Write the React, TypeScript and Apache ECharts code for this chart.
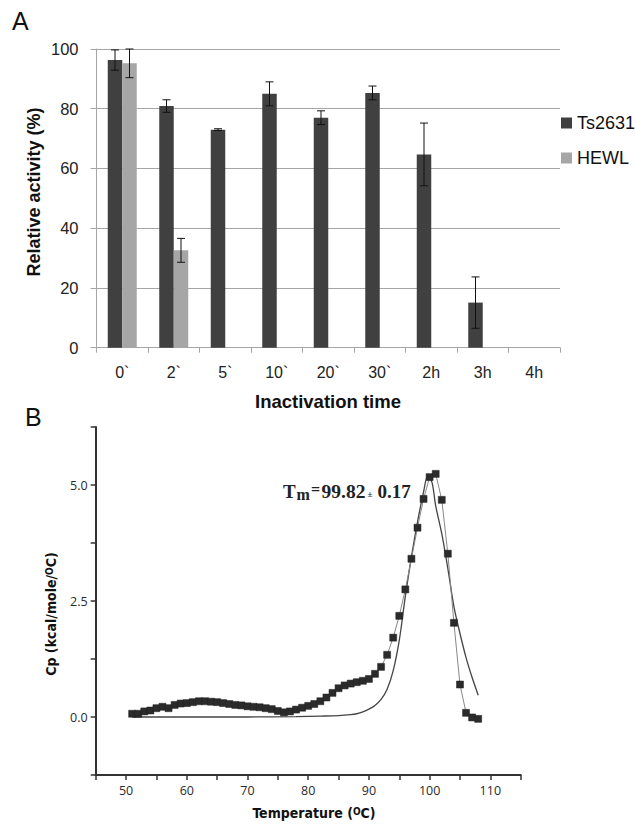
import React, { useEffect, useRef } from "react";
import * as echarts from "echarts";

// ---------- Panel A data ----------
const categories = ["0`", "2`", "5`", "10`", "20`", "30`", "2h", "3h", "4h"];
const ts2631 = [96.3, 80.9, 73.0, 85.0, 77.0, 85.3, 64.7, 15.1, 0];
const ts2631Err = [3.4, 2.1, 0.3, 4.0, 2.3, 2.3, 10.5, 8.6, null];
const hewl = [95.2, 32.6, null, null, null, null, null, null, null];
const hewlErr = [4.8, 4.0, null, null, null, null, null, null, null];

// ---------- Panel B data ----------
const dscTemps = [
  51, 52, 53, 54, 55, 56, 57, 58, 59, 60,
  61, 62, 63, 64, 65, 66, 67, 68, 69, 70,
  71, 72, 73, 74, 75, 76, 77, 78, 79, 80,
  81, 82, 83, 84, 85, 86, 87, 88, 89, 90,
  91, 92, 93, 94, 95, 96, 97, 98, 99, 100,
  101, 102, 103, 104, 105, 106, 107, 108,
];
const dscCp = [
  0.07, 0.07, 0.12, 0.14, 0.19, 0.22, 0.19, 0.26, 0.29, 0.30,
  0.32, 0.34, 0.34, 0.33, 0.32, 0.30, 0.28, 0.26, 0.25, 0.23,
  0.22, 0.21, 0.19, 0.17, 0.13, 0.10, 0.12, 0.16, 0.20, 0.24,
  0.28, 0.34, 0.42, 0.52, 0.62, 0.68, 0.72, 0.75, 0.78, 0.82,
  0.93, 1.08, 1.34, 1.71, 2.18, 2.75, 3.41, 4.08, 4.70, 5.17,
  5.24, 4.68, 3.52, 2.03, 0.70, 0.09, -0.01, -0.04,
];
const fitTemps = [51, 60, 70, 78, 82, 85, 87, 88, 89, 90, 91, 92, 93, 94, 95, 96, 97, 98, 99, 99.7, 100.4, 101, 102, 103, 104, 105, 106, 107, 108];
const fitCp = [0, 0, 0, 0.01, 0.02, 0.03, 0.05, 0.07, 0.11, 0.17, 0.25, 0.38, 0.6, 1.0, 1.65, 2.6, 3.45, 4.2, 4.85, 5.2, 5.05, 4.55, 3.95, 3.2, 2.38, 1.8, 1.28, 0.85, 0.47];

const SANS = "'Liberation Sans', Arial, sans-serif";
const NARROW = "'Liberation Sans Narrow', 'DejaVu Sans Condensed', sans-serif";
const OPEN = "'Open Sans', sans-serif";
const SERIF = "'Liberation Serif', 'Times New Roman', serif";

function errData(values: (number | null)[], errs: (number | null)[]) {
  const out: number[][] = [];
  values.forEach((v, i) => {
    const e = errs[i];
    if (v != null && e != null) out.push([i, v - e, v + e]);
  });
  return out;
}

function errRender(offset: number) {
  return (params: any, api: any) => {
    const x = api.value(0);
    const lo = api.coord([x, api.value(1)]);
    const hi = api.coord([x, api.value(2)]);
    const cx = lo[0] + offset;
    const cap = 4;
    const st = { stroke: "#111", lineWidth: 1 };
    return {
      type: "group",
      children: [
        { type: "line", shape: { x1: cx, y1: hi[1], x2: cx, y2: lo[1] }, style: st },
        { type: "line", shape: { x1: cx - cap, y1: hi[1], x2: cx + cap, y2: hi[1] }, style: st },
        { type: "line", shape: { x1: cx - cap, y1: lo[1], x2: cx + cap, y2: lo[1] }, style: st },
      ],
    };
  };
}

export default function App() {
  const ref = useRef<HTMLDivElement>(null);
  useEffect(() => {
    if (!ref.current) return;
    const chart = echarts.init(ref.current, null, { renderer: "svg" });
    const barW = 14.5;
    const option: any = {
      animation: false,
      backgroundColor: "#fff",
      grid: [
        { left: 96.5, top: 49, width: 463.5, height: 298.7 },
        { left: 95.7, top: 427, width: 425, height: 348 },
      ],
      legend: {
        data: ["Ts2631", "HEWL"],
        orient: "vertical",
        left: 556,
        top: 109,
        itemWidth: 11,
        itemHeight: 11,
        itemGap: 17,
        icon: "rect",
        textStyle: { fontSize: 18, fontFamily: SANS, color: "#111" },
      },
      xAxis: [
        {
          gridIndex: 0,
          type: "category",
          data: categories,
          axisLine: { lineStyle: { color: "#a6a6a6", width: 1 } },
          axisTick: { show: true, length: 5, lineStyle: { color: "#a6a6a6" } },
          axisLabel: { fontSize: 16, fontFamily: SANS, color: "#222", margin: 17 },
        },
        {
          gridIndex: 1,
          type: "value",
          min: 45,
          max: 115,
          interval: 5,
          splitLine: { show: false },
          axisLine: { show: true, onZero: false, lineStyle: { color: "#333", width: 2 } },
          axisTick: { show: true, length: 5, lineStyle: { color: "#333", width: 1.5 } },
          axisLabel: {
            fontSize: 12.5,
            fontFamily: OPEN,
            color: "#2a2a2a",
            margin: 9,
            formatter: (v: number) => (v % 10 === 0 ? String(v) : ""),
          },
        },
      ],
      yAxis: [
        {
          gridIndex: 0,
          type: "value",
          min: 0,
          max: 100,
          interval: 20,
          axisLine: { show: true, lineStyle: { color: "#a6a6a6" } },
          axisTick: { show: true, length: 6, lineStyle: { color: "#a6a6a6" } },
          splitLine: { show: true, lineStyle: { color: "#a6a6a6", width: 1 } },
          axisLabel: { fontSize: 16.5, fontFamily: SANS, color: "#222", margin: 18 },
        },
        {
          gridIndex: 1,
          type: "value",
          min: -1.25,
          max: 6.25,
          interval: 1.25,
          splitLine: { show: false },
          axisLine: { show: true, onZero: false, lineStyle: { color: "#333", width: 2 } },
          axisTick: { show: true, length: 5, lineStyle: { color: "#333", width: 1.5 } },
          axisLabel: {
            fontSize: 12.5,
            fontFamily: OPEN,
            color: "#2a2a2a",
            margin: 8,
            formatter: (v: number) => (Math.abs(v % 2.5) < 1e-9 ? v.toFixed(1) : ""),
          },
        },
      ],
      series: [
        {
          name: "Ts2631",
          type: "bar",
          xAxisIndex: 0,
          yAxisIndex: 0,
          data: ts2631,
          barWidth: barW,
          barGap: "0%",
          itemStyle: { color: "#404040", borderWidth: 0 },
        },
        {
          name: "HEWL",
          type: "bar",
          xAxisIndex: 0,
          yAxisIndex: 0,
          data: hewl,
          barWidth: barW,
          barGap: "0%",
          itemStyle: { color: "#a6a6a6", borderWidth: 0 },
        },
        {
          type: "custom",
          xAxisIndex: 0,
          yAxisIndex: 0,
          z: 5,
          data: errData(ts2631, ts2631Err),
          encode: { x: 0, y: [1, 2] },
          renderItem: errRender(-barW / 2),
        },
        {
          type: "custom",
          xAxisIndex: 0,
          yAxisIndex: 0,
          z: 5,
          data: errData(hewl, hewlErr),
          encode: { x: 0, y: [1, 2] },
          renderItem: errRender(barW / 2),
        },
        {
          type: "line",
          xAxisIndex: 1,
          yAxisIndex: 1,
          data: fitTemps.map((t, i) => [t, fitCp[i]]),
          smooth: 0.3,
          showSymbol: false,
          symbol: "none",
          lineStyle: { color: "#444", width: 1.3 },
          z: 2,
        },
        {
          type: "line",
          xAxisIndex: 1,
          yAxisIndex: 1,
          data: dscTemps.map((t, i) => [t, dscCp[i]]),
          symbol: "rect",
          symbolSize: 7,
          showSymbol: true,
          itemStyle: { color: "#2b2b2b", borderColor: "#222", borderWidth: 0.5 },
          lineStyle: { color: "#888", width: 1 },
          z: 3,
        },
      ],
      graphic: [
        { type: "text", left: 12, top: 8, style: { text: "A", fontSize: 25, fontFamily: SANS, fill: "#111" } },
        { type: "text", left: 25, top: 404, style: { text: "B", fontSize: 25, fontFamily: SANS, fill: "#111" } },
        {
          type: "text",
          x: 34,
          y: 192,
          rotation: Math.PI / 2,
          style: {
            text: "Relative activity (%)",
            fontSize: 18,
            fontWeight: "bold",
            fontFamily: SANS,
            fill: "#111",
            textAlign: "center",
            textVerticalAlign: "middle",
          },
        },
        {
          type: "text",
          x: 328,
          y: 401,
          style: {
            text: "Inactivation time",
            fontSize: 18.5,
            fontWeight: "bold",
            fontFamily: SANS,
            fill: "#111",
            textAlign: "center",
            textVerticalAlign: "middle",
          },
        },
        {
          type: "text",
          x: 51,
          y: 614,
          rotation: Math.PI / 2,
          style: {
            text: "{a|Cp (kcal/mole/}{s|O}{a|C)}",
            fontFamily: NARROW,
            textAlign: "center",
            textVerticalAlign: "middle",
            rich: {
              a: { fontSize: 14, fontWeight: "bold", fontFamily: NARROW, fill: "#111", verticalAlign: "bottom" },
              s: { fontSize: 10, fontWeight: "bold", fontFamily: NARROW, fill: "#111", verticalAlign: "top" },
            },
          },
        },
        {
          type: "text",
          x: 314,
          y: 813,
          style: {
            text: "{a|Temperature (}{s|O}{a|C)}",
            fontFamily: NARROW,
            textAlign: "center",
            textVerticalAlign: "middle",
            rich: {
              a: { fontSize: 14, fontWeight: "bold", fontFamily: NARROW, fill: "#111", verticalAlign: "bottom" },
              s: { fontSize: 10, fontWeight: "bold", fontFamily: NARROW, fill: "#111", verticalAlign: "top" },
            },
          },
        },
        { type: "text", x: 283, y: 491, style: { text: "T", fontSize: 19, fontWeight: "bold", fontFamily: SERIF, fill: "#222", textVerticalAlign: "middle" } },
        { type: "text", x: 296.5, y: 494.5, style: { text: "m", fontSize: 16, fontWeight: "bold", fontFamily: SERIF, fill: "#222", textVerticalAlign: "middle" } },
        { type: "text", x: 311, y: 489, style: { text: "=", fontSize: 16, fontWeight: "bold", fontFamily: SERIF, fill: "#222", textVerticalAlign: "middle" } },
        { type: "text", x: 321.5, y: 491, style: { text: "99.82", fontSize: 19.5, fontWeight: "bold", fontFamily: SERIF, fill: "#222", textVerticalAlign: "middle" } },
        { type: "text", x: 367.5, y: 493.5, style: { text: "±", fontSize: 9, fontWeight: "bold", fontFamily: SERIF, fill: "#222", textVerticalAlign: "middle" } },
        { type: "text", x: 377.5, y: 491, style: { text: "0.17", fontSize: 19, fontWeight: "bold", fontFamily: SERIF, fill: "#222", textVerticalAlign: "middle" } },
      ],
    };
    chart.setOption(option);
    return () => chart.dispose();
  }, []);
  return (
    <div
      ref={ref}
      style={{ position: "absolute", left: 0, top: 0, width: 635, height: 826, background: "#fff" }}
    />
  );
}
